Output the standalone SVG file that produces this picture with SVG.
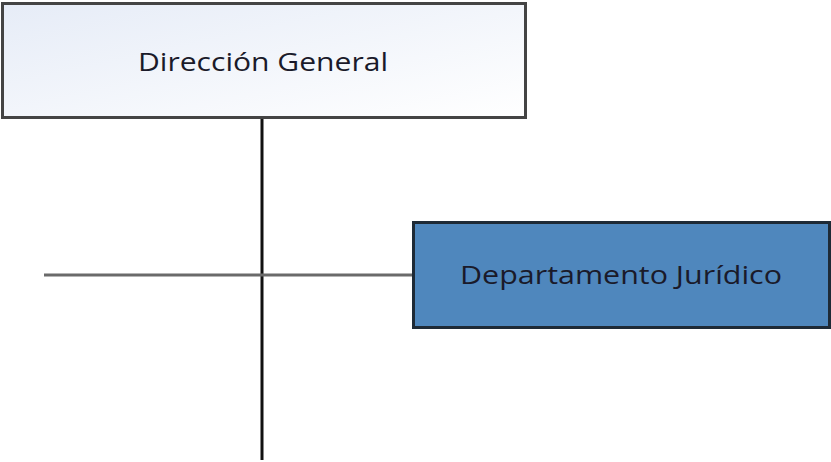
<svg xmlns="http://www.w3.org/2000/svg" width="831" height="462" viewBox="0 0 831 462">
<defs>
<linearGradient id="g1" x1="0" y1="0" x2="1" y2="1">
<stop offset="0" stop-color="#e6ecf7"/>
<stop offset="1" stop-color="#ffffff"/>
</linearGradient>
</defs>
<style>
.lbl{font-family:"Open Sans","Liberation Sans",sans-serif;font-size:26px;fill:#1a1a2a;text-anchor:middle;dominant-baseline:central}
</style>
<rect width="831" height="462" fill="#ffffff"/>
<g id="connectors">
<line x1="262" y1="118" x2="262" y2="460" stroke="#111" stroke-width="3"/>
<line x1="44" y1="275" x2="413" y2="275" stroke="#6a6a6a" stroke-width="3"/>
</g>
<g id="direccion-general">
<rect x="2.5" y="3.5" width="523" height="114" fill="url(#g1)" stroke="#444" stroke-width="3"/>
<text class="lbl" x="263" y="61" textLength="250" lengthAdjust="spacingAndGlyphs">Dirección General</text>
</g>
<g id="departamento-juridico">
<rect x="413.5" y="222.5" width="416" height="105" fill="#4f87bd" stroke="#1e2a36" stroke-width="3"/>
<text class="lbl" x="621" y="274" textLength="322" lengthAdjust="spacingAndGlyphs">Departamento Jurídico</text>
</g>
</svg>
